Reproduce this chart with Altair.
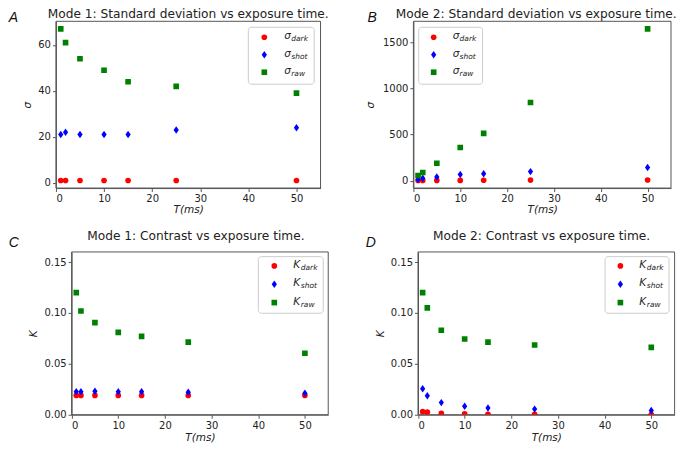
import altair as alt
import pandas as pd

T = [1, 2, 5, 10, 15, 25, 50]

m1_sigma_dark = [1, 1, 1, 1, 1, 1, 1]
m1_sigma_shot = [21, 22, 21, 21, 21, 23, 24]
m1_sigma_raw = [67, 61, 54, 49, 44, 42, 39]

m2_sigma_dark = [1, 1, 2, 2, 4, 5, 6]
m2_sigma_shot = [12, 25, 38, 67, 75, 97, 142]
m2_sigma_raw = [55, 87, 188, 358, 512, 846, 1643]

m1_k_dark = [0.019, 0.019, 0.019, 0.019, 0.019, 0.019, 0.019]
m1_k_shot = [0.0225, 0.0225, 0.023, 0.0225, 0.0225, 0.022, 0.021]
m1_k_raw = [0.12, 0.102, 0.0905, 0.081, 0.077, 0.0713, 0.0604]

m2_k_dark = [0.003, 0.0025, 0.0013, 0.001, 0.0005, 0.0004, 0.0002]
m2_k_shot = [0.0256, 0.0186, 0.0119, 0.0083, 0.0067, 0.0055, 0.0042]
m2_k_raw = [0.12, 0.105, 0.083, 0.0744, 0.0713, 0.0685, 0.0662]

series_names = ["dark", "shot", "raw"]
x_ticks = [0, 10, 20, 30, 40, 50]

FONT = "DejaVu Sans"
FRAME = "#555555"
DIAMOND = "M0,-1L0.7,0L0,1L-0.7,0Z"
STYLE = {
    "dark": dict(color="#ff0000", shape="circle", size=32),
    "shot": dict(color="#0000ff", shape=DIAMOND, size=56),
    "raw": dict(color="#008000", shape="square", size=32),
}

one = pd.DataFrame({"a": [0]})


def panel(dark, shot, raw, sym, y_dom, y_ticks, y_fmt, title, title_dx,
          title_y, label, label_x, label_y, leg_x, leg_y, leg_w, leg_h,
          leg_rows, leg_mx, leg_tx, w, h, ytitle_pad, shift, xtitle_pad):
    # shift: empty margin (px) inside the view, left of the drawn frame
    df = pd.DataFrame({
        "T": T * 3,
        "v": dark + shot + raw,
        "s": ["dark"] * 7 + ["shot"] * 7 + ["raw"] * 7,
    })
    x0 = shift
    x1 = shift + w
    x = alt.X("T:Q", scale=alt.Scale(domain=[0, 55], nice=False, zero=False,
                                     range=[x0, x1]),
              axis=alt.Axis(values=x_ticks, title="T(ms)", titlePadding=xtitle_pad))
    y = alt.Y("v:Q", scale=alt.Scale(domain=y_dom, nice=False, zero=False),
              axis=alt.Axis(values=y_ticks, format=y_fmt, title=sym,
                            titlePadding=ytitle_pad, offset=-shift))
    layers = []
    # frame
    layers.append(
        alt.Chart(one).mark_rect(filled=False, stroke=FRAME, strokeWidth=1)
        .encode(x=alt.value(x0), x2=alt.value(x1), y=alt.value(0), y2=alt.value(h))
    )
    for name in series_names:
        st = STYLE[name]
        layers.append(
            alt.Chart(df).transform_filter(alt.datum.s == name)
            .mark_point(filled=True, opacity=1, clip=True, **st)
            .encode(x=x, y=y)
        )
    # legend box
    lx = x0 + leg_x
    layers.append(
        alt.Chart(one).mark_rect(fill="white", fillOpacity=0.8, stroke="#cccccc",
                                 strokeWidth=1, cornerRadius=3)
        .encode(x=alt.value(lx), x2=alt.value(lx + leg_w),
                y=alt.value(leg_y), y2=alt.value(leg_y + leg_h))
    )
    for i, name in enumerate(series_names):
        st = STYLE[name]
        ry = leg_y + leg_rows[i]
        layers.append(
            alt.Chart(one).mark_point(filled=True, opacity=1, **st)
            .encode(x=alt.value(lx + leg_mx), y=alt.value(ry))
        )
        layers.append(
            alt.Chart(one).mark_text(text=sym, align="left", baseline="middle",
                                     fontStyle="italic", fontSize=10.5, font=FONT,
                                     color="#222")
            .encode(x=alt.value(lx + leg_tx), y=alt.value(ry - 1))
        )
        layers.append(
            alt.Chart(one).mark_text(text=name, align="left", baseline="middle",
                                     fontStyle="italic", fontSize=7.5, font=FONT,
                                     color="#222")
            .encode(x=alt.value(lx + leg_tx + (7 if sym == "σ" else 7.5)),
                    y=alt.value(ry + 2))
        )
    # panel letter
    layers.append(
        alt.Chart(one).mark_text(text=label, align="left", baseline="middle",
                                 fontStyle="italic", fontSize=14,
                                 font="Liberation Sans", color="#111")
        .encode(x=alt.value(x0 + label_x), y=alt.value(label_y))
    )
    # panel title
    layers.append(
        alt.Chart(one).mark_text(text=title, align="center", baseline="alphabetic",
                                 fontSize=12.2, font=FONT, color="#222")
        .encode(x=alt.value(x0 + w / 2 + title_dx), y=alt.value(title_y))
    )
    return alt.layer(*layers).properties(width=shift + w, height=h)


A = panel(m1_sigma_dark, m1_sigma_shot, m1_sigma_raw, "σ", [-2.3, 70.3],
          [0, 20, 40, 60], "d", "Mode 1: Standard deviation vs exposure time.", 0, -3,
          "A", -47.3, -3.5, 192.7, 6, 66, 57, [10, 27.5, 45], 16, 36, 265, 167, 5, 0, 1)
B = panel(m2_sigma_dark, m2_sigma_shot, m2_sigma_raw, "σ", [-81, 1725],
          [0, 500, 1000, 1500], "d", "Mode 2: Standard deviation vs exposure time.", -6, -3,
          "B", -46, -3.5, 5.3, 6, 64, 57, [10, 27.5, 45], 15, 34, 258, 167, 7, 0, 1)
C = panel(m1_k_dark, m1_k_shot, m1_k_raw, "K", [0, 0.16],
          [0, 0.05, 0.10, 0.15], ".2f", "Mode 1: Contrast vs exposure time.", -4, -12,
          "C", -63, -9, 187, 4.7, 65, 56.7, [9.3, 27.7, 46], 16, 35, 257, 163, 5, 15.7, 2)
D = panel(m2_k_dark, m2_k_shot, m2_k_raw, "K", [0, 0.16],
          [0, 0.05, 0.10, 0.15], ".2f", "Mode 2: Contrast vs exposure time.", -4.7, -12,
          "D", -52.3, -9, 187.4, 4.7, 64, 56.7, [9.3, 27.7, 46], 15.3, 34.3, 257, 163, 5, 5.6, 2)

chart = alt.vconcat(
    alt.hconcat(A, B, spacing=36),
    alt.hconcat(C, D, spacing=36),
    spacing=15,
).properties(
    padding=0
).configure(
    font=FONT
).configure_view(
    stroke="transparent", strokeWidth=0
).configure_axis(
    grid=False, domainColor=FRAME, tickColor=FRAME, tickSize=3.5,
    labelColor="#222222", labelFontSize=10, labelFont=FONT, labelPadding=2,
    titleFont=FONT, titleFontSize=10.5, titleFontStyle="italic",
    titleFontWeight="normal", titleColor="#222222", domainWidth=1, tickWidth=1,
)

chart.save("out.html", embed_options={"renderer": "svg", "actions": False})
